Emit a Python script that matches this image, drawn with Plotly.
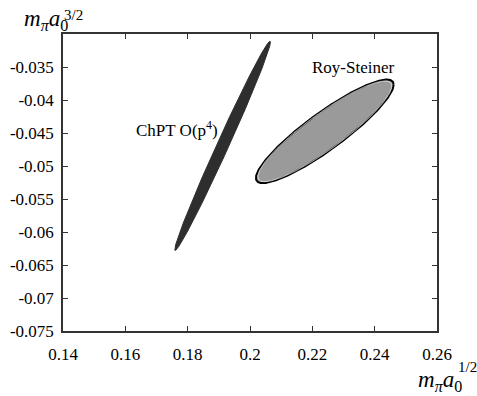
import numpy as np
import plotly.graph_objects as go

# Ellipse parameters (data units)
ellipse_names = ["ChPT O(p<sup>4</sup>)", "Roy-Steiner"]
center_x = [0.1912, 0.2240]
center_y = [-0.04695, -0.04475]
sigma_x = [0.01535, 0.0221]
sigma_y = [0.01585, 0.00785]
rho = [0.991, 0.90]

x_ticks = [0.14, 0.16, 0.18, 0.20, 0.22, 0.24, 0.26]
x_tick_labels = ["0.14", "0.16", "0.18", "0.2", "0.22", "0.24", "0.26"]
y_ticks = [-0.075, -0.07, -0.065, -0.06, -0.055, -0.05, -0.045, -0.04, -0.035, -0.03]
y_tick_labels = ["-0.075", "-0.07", "-0.065", "-0.06", "-0.055", "-0.05", "-0.045", "-0.04", "-0.035", ""]

fill_colors = ["#2e2e2e", "#9a9a9a"]
line_colors = ["#2e2e2e", "#000000"]
line_widths = [1, 2]
inner_ring = [False, True]

W, H = 477, 396
ML, MR, MT, MB = 63, 40, 34, 65
pw = W - ML - MR
ph = H - MT - MB


def px_x(p):
    return (p - ML) / pw


def px_y(p):
    return (H - MB - p) / ph


t = np.linspace(0, 2 * np.pi, 400)
fig = go.Figure()
for i in range(2):
    ex = center_x[i] + sigma_x[i] * np.cos(t)
    ey = center_y[i] + sigma_y[i] * (rho[i] * np.cos(t) + np.sqrt(1 - rho[i] ** 2) * np.sin(t))
    fig.add_trace(go.Scatter(x=ex, y=ey, mode="lines", fill="toself",
                             fillcolor=fill_colors[i],
                             line=dict(color=line_colors[i], width=line_widths[i]),
                             name=ellipse_names[i], showlegend=False, hoverinfo="skip"))
    if inner_ring[i]:
        k = 0.972
        rx = center_x[i] + k * sigma_x[i] * np.cos(t)
        ry = center_y[i] + k * sigma_y[i] * (rho[i] * np.cos(t) + np.sqrt(1 - rho[i] ** 2) * np.sin(t))
        fig.add_trace(go.Scatter(x=rx, y=ry, mode="lines",
                                 line=dict(color="rgba(255,255,255,0.8)", width=0.8),
                                 showlegend=False, hoverinfo="skip"))

serif = "Liberation Serif, Times New Roman, serif"
axis_common = dict(ticks="inside", ticklen=5, tickcolor="#333", showgrid=False, zeroline=False,
                   showline=True, linecolor="#333", linewidth=1.5, mirror="ticks",
                   automargin=False, tickfont=dict(family=serif, size=17, color="black"))
fig.update_layout(
    template="none",
    width=W, height=H,
    margin=dict(l=ML, r=MR, t=MT, b=MB),
    paper_bgcolor="white", plot_bgcolor="white",
    font=dict(family=serif, size=17, color="black"),
    xaxis=dict(range=[0.14, 0.26], tickvals=x_ticks, ticktext=x_tick_labels,
               ticklabelstandoff=7, **axis_common),
    yaxis=dict(range=[-0.075, -0.03], tickvals=y_ticks, ticktext=y_tick_labels,
               ticklabelstandoff=4, **axis_common),
    annotations=[
        dict(x=0.1766, y=-0.04445, xref="x", yref="y", text="ChPT O(p<sup>4</sup>)",
             showarrow=False, font=dict(family=serif, size=17, color="black")),
        dict(x=0.233, y=-0.03508, xref="x", yref="y", text="Roy-Steiner",
             showarrow=False, font=dict(family=serif, size=17, color="black")),
        # y-axis title (top-left)
        dict(x=px_x(22), y=px_y(36), xref="paper", yref="paper", xanchor="left", yanchor="bottom",
             text="<i>m</i><sub><i>π</i></sub><i>a</i><sub>0</sub>",
             showarrow=False, font=dict(family=serif, size=23, color="black")),
        dict(x=px_x(62), y=px_y(25), xref="paper", yref="paper", xanchor="left", yanchor="bottom",
             text="3/2", showarrow=False, font=dict(family=serif, size=15, color="black")),
        # x-axis title (bottom-right)
        dict(x=px_x(416), y=px_y(397), xref="paper", yref="paper", xanchor="left", yanchor="bottom",
             text="<i>m</i><sub><i>π</i></sub><i>a</i><sub>0</sub>",
             showarrow=False, font=dict(family=serif, size=23, color="black")),
        dict(x=px_x(456), y=px_y(377), xref="paper", yref="paper", xanchor="left", yanchor="bottom",
             text="1/2", showarrow=False, font=dict(family=serif, size=15, color="black")),
    ],
)

fig.write_html("out.html", config={"displayModeBar": False},
               post_script="document.body.style.margin='0px';")
